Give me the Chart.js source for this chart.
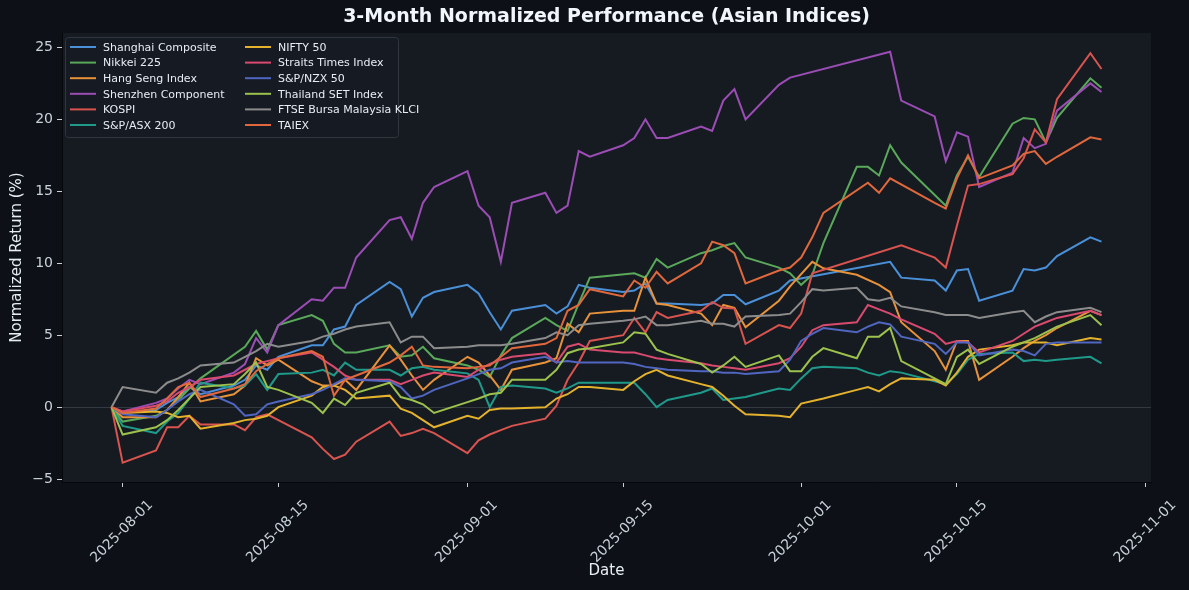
<!DOCTYPE html>
<html>
<head>
<meta charset="utf-8">
<title>3-Month Normalized Performance (Asian Indices)</title>
<script src="https://cdn.jsdelivr.net/npm/chart.js@4.4.1/dist/chart.umd.min.js"></script>
<style>
  html, body { margin: 0; padding: 0; background: #0d1117; }
  #wrap { width: 1189px; height: 590px; }
</style>
</head>
<body>
<div id="wrap"><canvas id="perf" width="1189" height="590"></canvas></div>
<script>
/* ---- data: trading days and normalized returns (%) ---- */
const dates = [
  '2025-07-31', '2025-08-01',
  '2025-08-04', '2025-08-05', '2025-08-06', '2025-08-07', '2025-08-08',
  '2025-08-11', '2025-08-12', '2025-08-13', '2025-08-14', '2025-08-15',
  '2025-08-18', '2025-08-19', '2025-08-20', '2025-08-21', '2025-08-22',
  '2025-08-25', '2025-08-26', '2025-08-27', '2025-08-28', '2025-08-29',
  '2025-09-01', '2025-09-02', '2025-09-03', '2025-09-04', '2025-09-05',
  '2025-09-08', '2025-09-09', '2025-09-10', '2025-09-11', '2025-09-12',
  '2025-09-15', '2025-09-16', '2025-09-17', '2025-09-18', '2025-09-19',
  '2025-09-22', '2025-09-23', '2025-09-24', '2025-09-25', '2025-09-26',
  '2025-09-29', '2025-09-30', '2025-10-01', '2025-10-02', '2025-10-03',
  '2025-10-06', '2025-10-07', '2025-10-08', '2025-10-09', '2025-10-10',
  '2025-10-13', '2025-10-14', '2025-10-15', '2025-10-16', '2025-10-17',
  '2025-10-20', '2025-10-21', '2025-10-22', '2025-10-23', '2025-10-24',
  '2025-10-27', '2025-10-28'
];

// null = market closed that day
const shanghai = [0, -0.4,
  -0.2, 0.3, 0.7, 1.4, 0.9,   1.5, 1.9, 2.9, 2.6, 3.5,   4.3, 4.3, 5.4, 5.6, 7.1,
  8.7, 8.2, 6.3, 7.6, 8.0,    8.5, 7.9, 6.6, 5.4, 6.7,   7.1, 6.5, 7.0, 8.5, 8.3,
  8.0, 8.1, 8.6, 7.2, 7.2,    7.1, 7.2, 7.8, 7.8, 7.15,  8.1, 8.8, null, null, null,
  null, null, null, 10.1, 9.0, 8.8, 8.1, 9.5, 9.6, 7.4,  8.1, 9.6, 9.5, 9.7, 10.5,
  11.8, 11.5];
const nikkei = [0, -1.0,
  -0.6, -0.2, 0.5, 1.3, 2.0,  null, 4.2, 5.3, 4.0, 5.7,  6.4, 6.0, 4.4, 3.8, 3.8,
  4.3, 3.5, 3.6, 4.2, 3.4,    2.9, 2.6, 2.1, 3.6, 4.8,   6.2, 5.7, 5.3, 7.2, 9.0,
  null, 9.3, 9.0, 10.3, 9.7,  10.7, 10.9, 11.2, 11.4, 10.4, 9.7, 9.3, 8.5, 9.2, 11.4,
  16.7, 16.7, 16.1, 18.2, 17.0, null, 14.0, 16.1, 17.4, 16.0, 19.7, 20.1, 20.0, 18.4, 20.1,
  22.85, 22.2];
const hangSeng = [0, -0.7,
  -0.7, -0.2, 0.7, 1.7, 0.4,  0.9, 1.5, 3.4, 2.9, 3.3,   1.8, 1.5, 1.5, 1.9, 1.2,
  4.3, 3.3, 2.2, 1.2, 1.9,    3.5, 3.1, 2.2, 1.2, 2.6,   3.1, 3.4, 5.8, 5.2, 6.5,
  6.7, 6.7, 9.0, 7.2, 7.1,    6.5, 5.7, 7.1, 6.9, 5.55,  7.4, 8.4, null, 10.1, 9.65,
  9.2, null, 8.5, 8.0, 5.9,   3.9, 2.6, 4.6, 4.6, 1.9,   3.5, 4.1, 4.6, 5.0, 5.5,
  6.7, 6.4];
const shenzhen = [0, -0.3,
  0.3, 0.6, 1.3, 1.9, 1.6,    2.4, 3.0, 4.8, 3.8, 5.7,   7.5, 7.4, 8.3, 8.3, 10.4,
  13.0, 13.2, 11.7, 14.2, 15.3, 16.4, 14.0, 13.2, 10.1, 14.2, 14.9, 13.5, 14.0, 17.8, 17.4,
  18.2, 18.7, 20.0, 18.7, 18.7, 19.5, 19.2, 21.3, 22.1, 20.0, 22.4, 22.9, null, null, null,
  null, null, null, 24.7, 21.3, 20.2, 17.1, 19.1, 18.8, 15.3, 16.3, 18.7, 18.0, 18.3, 20.6,
  22.5, 21.9];
const kospi = [0, -3.85,
  -3.0, -1.4, -1.4, -0.6, -1.2, -1.2, -1.6, -0.7, -0.5, -0.9, -2.1, -2.9, -3.6, -3.3, -2.4,
  -1.0, -2.0, -1.8, -1.5, -1.8, -3.2, -2.3, -1.9, -1.6, -1.3, -0.8, 0.1, 1.9, 3.1, 4.6,
  5.0, 6.2, 5.2, 6.6, 6.2,    6.7, 7.3, 6.9, 6.85, 4.4,  5.7, 5.5, 6.5, 9.3, null,
  null, null, null, null, 11.25, 10.4, 9.7, 12.6, 15.4, 15.5, 16.2, 17.3, 19.3, 18.4, 21.4,
  24.6, 23.5];
const asx200 = [0, -1.3,
  -1.8, -1.0, -0.4, 0.6, 1.7,  1.3, 1.5, 2.3, 1.2, 2.3,  2.4, 2.6, 2.2, 3.1, 2.6,
  2.6, 2.2, 2.7, 2.8, 2.6,    2.35, 1.9, 0.0, 1.4, 1.5,  1.3, 1.0, 1.3, 1.7, 1.7,
  1.7, 1.7, 0.9, 0.0, 0.5,    1.0, 1.3, 0.5, 0.6, 0.7,   1.3, 1.2, 2.0, 2.7, 2.8,
  2.7, 2.4, 2.2, 2.5, 2.4,    1.8, 1.6, 2.3, 3.3, 3.7,   3.8, 3.2, 3.3, 3.2, 3.3,
  3.5, 3.05];
const nifty50 = [0, -0.4,
  -0.3, -0.4, -0.7, -0.6, -1.5, -1.1, -0.9, -0.8, -0.6, 0.0, 0.8, 1.4, 1.5, 1.2, 0.6,
  0.8, -0.1, -0.4, -0.9, -1.4, -0.6, -0.8, -0.2, -0.1, -0.1, 0.0, 0.6, 0.9, 1.4, 1.4,
  1.2, 1.8, 2.3, 2.6, 2.2,    1.6, 1.4, 0.8, 0.1, -0.5,  -0.6, -0.7, 0.25, null, 0.6,
  1.2, 1.4, 1.1, 1.6, 2.0,    1.9, 1.5, 2.4, 3.5, 4.0,   4.3, 4.5, null, 4.5, 4.3,
  4.8, 4.7];
const straitsTimes = [0, -0.3,
  0.1, 0.4, 1.0, 1.4, 1.9,    2.2, 2.6, 3.0, 3.2, 3.4,   3.8, 3.3, 2.8, 2.2, 1.9,
  1.9, 1.6, 1.9, 2.2, 2.4,    2.1, 2.6, 3.0, 3.3, 3.5,   3.75, 3.1, 4.2, 4.4, 4.0,
  3.8, 3.8, 3.6, 3.4, 3.3,    3.05, 2.9, 2.8, 2.7, 2.6,  3.05, 3.4, 4.2, 5.35, 5.7,
  5.9, 7.1, 6.8, 6.5, 6.1,    5.1, 4.4, 4.6, 4.5, 3.8,   4.6, 5.1, 5.6, 5.9, 6.2,
  6.7, 6.4];
const nzx50 = [0, -0.5,
  -0.7, -0.2, 0.4, 0.9, 1.2,  0.2, -0.6, -0.5, 0.2, 0.4, 0.9, 1.2, 1.6, 2.0, 1.9,
  1.8, 1.4, 0.6, 0.8, 1.2,    2.0, 2.3, 2.6, 2.7, 3.1,   3.5, 3.1, 3.2, 3.1, 3.1,
  3.1, 3.0, 2.8, 2.7, 2.6,    2.5, 2.5, 2.4, 2.4, 2.3,   2.5, 3.3, 4.6, 5.1, 5.5,
  5.2, 5.6, 5.9, 5.75, 4.9,   4.4, 3.7, 4.5, 4.5, 3.6,   4.0, 3.9, 3.6, 4.4, 4.5,
  4.5, 4.5];
const thailandSet = [0, -1.9,
  -1.4, -0.9, -0.2, 0.6, 1.4,  1.6, 2.3, 3.1, 1.4, 1.2,  0.3, -0.4, 0.6, 0.15, 1.0,
  1.7, 0.7, 0.5, 0.2, -0.4,   0.35, 0.6, 0.9, 1.0, 1.9,  1.9, 2.6, 3.75, 4.0, 4.1,
  4.5, 5.2, 5.1, 4.0, 3.7,    3.0, 2.4, 2.9, 3.5, 2.8,   3.6, 2.5, 2.5, 3.5, 4.1,
  3.4, 4.9, 4.9, 5.5, 3.2,    2.0, 1.6, 3.5, 4.0, 3.0,   4.2, 4.5, 4.8, 5.2, 5.6,
  6.4, 5.7];
const ftseKlci = [0, 1.4,
  1.0, 1.7, 2.0, 2.4, 2.9,    3.1, 3.5, 3.9, 4.4, 4.2,   4.6, 4.9, 5.1, 5.4, 5.6,
  5.9, 4.5, 4.9, 4.9, 4.1,    4.2, 4.3, 4.3, 4.3, 4.4,   4.8, 5.2, 5.0, 5.7, 5.8,
  6.0, 6.1, 6.3, 5.7, 5.7,    6.0, 5.8, 5.8, 5.6, 6.3,   6.4, 6.5, 7.3, 8.2, 8.1,
  8.3, 7.5, 7.4, 7.6, 7.0,    6.6, 6.4, 6.4, 6.4, 6.2,   6.6, 6.7, 5.9, 6.3, 6.6,
  6.9, 6.6];
const taiex = [0, -0.4,
  -0.1, 0.6, 1.4, 1.7, 0.7,   1.3, 1.6, 2.5, 3.0, 3.4,   3.9, 3.5, 0.8, 1.9, 2.2,
  3.1, 3.6, 4.2, 2.9, 2.8,    2.7, 2.8, 2.9, 3.5, 4.1,   4.4, 4.8, 6.7, 7.1, 8.2,
  7.7, 8.8, 8.3, 9.4, 8.6,    10.0, 11.5, 11.25, 10.7, 8.6, 9.5, 9.7, 10.4, 11.8, 13.5,
  null, 15.6, 14.9, 15.9, null, 14.2, 13.8, 15.9, 17.5, 15.9, 16.8, 17.6, 17.8, 16.9, 17.4,
  18.75, 18.6];

const seriesNames = ['Shanghai Composite', 'Nikkei 225', 'Hang Seng Index', 'Shenzhen Component',
  'KOSPI', 'S&P/ASX 200', 'NIFTY 50', 'Straits Times Index', 'S&P/NZX 50',
  'Thailand SET Index', 'FTSE Bursa Malaysia KLCI', 'TAIEX'];
const seriesValues = [shanghai, nikkei, hangSeng, shenzhen, kospi, asx200,
  nifty50, straitsTimes, nzx50, thailandSet, ftseKlci, taiex];
const seriesColors = ['#4a90d9', '#5aa95a', '#e8923a', '#9b4db5', '#d9534f', '#1f9a8a',
  '#e4b22c', '#d94a6e', '#5066c0', '#9cc14c', '#8c8c8c', '#e0683c'];

const xTickDates = ['2025-08-01', '2025-08-15', '2025-09-01', '2025-09-15', '2025-10-01', '2025-10-15', '2025-11-01'];
const yTicks = [-5, 0, 5, 10, 15, 20, 25];

/* ---- helpers ---- */
const T0 = Date.UTC(2025, 6, 31);
const dayOf = (s) => { const [y, m, d] = s.split('-').map(Number); return (Date.UTC(y, m - 1, d) - T0) / 86400000; };
const dateOf = (n) => new Date(T0 + Math.round(n) * 86400000).toISOString().slice(0, 10);
const FONT = 'DejaVu Sans';
const TXT = '#c9d1d9';

const datasets = seriesNames.map((name, i) => ({
  label: name,
  data: dates.map((d, j) => ({ x: dayOf(d), y: seriesValues[i][j] })).filter((p) => p.y !== null),
  borderColor: seriesColors[i],
  borderWidth: 2,
  pointRadius: 0,
  tension: 0,
  fill: false,
  order: seriesNames.length - i      // later series on top, like the source
}));

/* ---- plugins: panel colours, zero line, title/labels/legend ---- */
const panel = {
  id: 'panel',
  beforeDraw(chart) {
    const { ctx, chartArea: a } = chart;
    ctx.save();
    ctx.fillStyle = '#0d1117'; ctx.fillRect(0, 0, chart.width, chart.height);
    ctx.fillStyle = '#161b22'; ctx.fillRect(a.left, a.top, a.right - a.left, a.bottom - a.top);
    ctx.restore();
  },
  beforeDatasetsDraw(chart) {
    const { ctx, chartArea: a, scales: { y } } = chart;
    const y0 = Math.round(y.getPixelForValue(0)) + 0.5;
    ctx.save();
    ctx.strokeStyle = 'rgba(139,148,158,0.25)'; ctx.lineWidth = 1;
    ctx.beginPath(); ctx.moveTo(a.left, y0); ctx.lineTo(a.right, y0); ctx.stroke();
    ctx.restore();
  }
};

const decor = {
  id: 'decor',
  afterDraw(chart) {
    const { ctx, chartArea: a } = chart;
    const cx = (a.left + a.right) / 2, cy = (a.top + a.bottom) / 2;
    ctx.save();
    ctx.textAlign = 'center'; ctx.textBaseline = 'middle';
    ctx.fillStyle = '#f0f6fc'; ctx.font = `bold 19px ${FONT}`;
    ctx.fillText('3-Month Normalized Performance (Asian Indices)', cx, 17);
    ctx.fillStyle = '#e6edf3'; ctx.font = `15px ${FONT}`;
    ctx.fillText('Date', cx, 571);
    ctx.translate(17, cy); ctx.rotate(-Math.PI / 2);
    ctx.fillText('Normalized Return (%)', 0, 0);
    ctx.restore();

    // legend, two columns in the upper-left corner
    ctx.save();
    const bx = a.left + 3, by = a.top + 4, bw = 333, bh = 100;
    ctx.fillStyle = 'rgba(22,27,34,0.9)'; ctx.strokeStyle = '#30363d'; ctx.lineWidth = 1;
    ctx.beginPath(); ctx.roundRect(bx + 0.5, by + 0.5, bw, bh, 3); ctx.fill(); ctx.stroke();
    ctx.font = `11px ${FONT}`; ctx.textBaseline = 'middle'; ctx.textAlign = 'left';
    seriesNames.forEach((name, i) => {
      const col = Math.floor(i / 6), row = i % 6;
      const hx = col ? 245 : 70, tx = col ? 278 : 103, yy = by + 10 + row * 15.6;
      ctx.strokeStyle = seriesColors[i]; ctx.lineWidth = 2;
      ctx.beginPath(); ctx.moveTo(hx, yy); ctx.lineTo(hx + 26, yy); ctx.stroke();
      ctx.fillStyle = '#e6edf3'; ctx.fillText(name, tx, yy + 1);
    });
    ctx.restore();
  }
};

new Chart(document.getElementById('perf'), {
  type: 'line',
  data: { datasets },
  options: {
    responsive: false,
    animation: false,
    devicePixelRatio: 1,
    layout: { padding: { top: 33, right: 38, left: 0, bottom: 0 } },
    plugins: { legend: { display: false }, tooltip: { enabled: false }, title: { display: false } },
    scales: {
      x: {
        type: 'linear', min: -4.45, max: 93.45,
        afterBuildTicks: (s) => { s.ticks = xTickDates.map((d) => ({ value: dayOf(d) })); },
        afterFit: (s) => { s.height = 108; },
        ticks: { color: TXT, font: { family: FONT, size: 14 }, autoSkip: false,
          minRotation: 45, maxRotation: 45, padding: 10, labelOffset: 28,
          callback: (v) => dateOf(v) },
        grid: { drawOnChartArea: false, drawTicks: true, tickLength: 5, color: TXT },
        border: { display: true, color: '#06080c' }
      },
      y: {
        min: -5.2, max: 26,
        afterBuildTicks: (s) => { s.ticks = yTicks.map((v) => ({ value: v })); },
        afterFit: (s) => { s.width = 62; },
        ticks: { color: TXT, font: { family: FONT, size: 14 }, padding: 4,
          callback: (v) => String(v).replace('-', '\u2212') },
        grid: { drawOnChartArea: false, drawTicks: true, tickLength: 5, color: TXT },
        border: { display: true, color: '#06080c' }
      }
    }
  },
  plugins: [panel, decor]
});
</script>
</body>
</html>
